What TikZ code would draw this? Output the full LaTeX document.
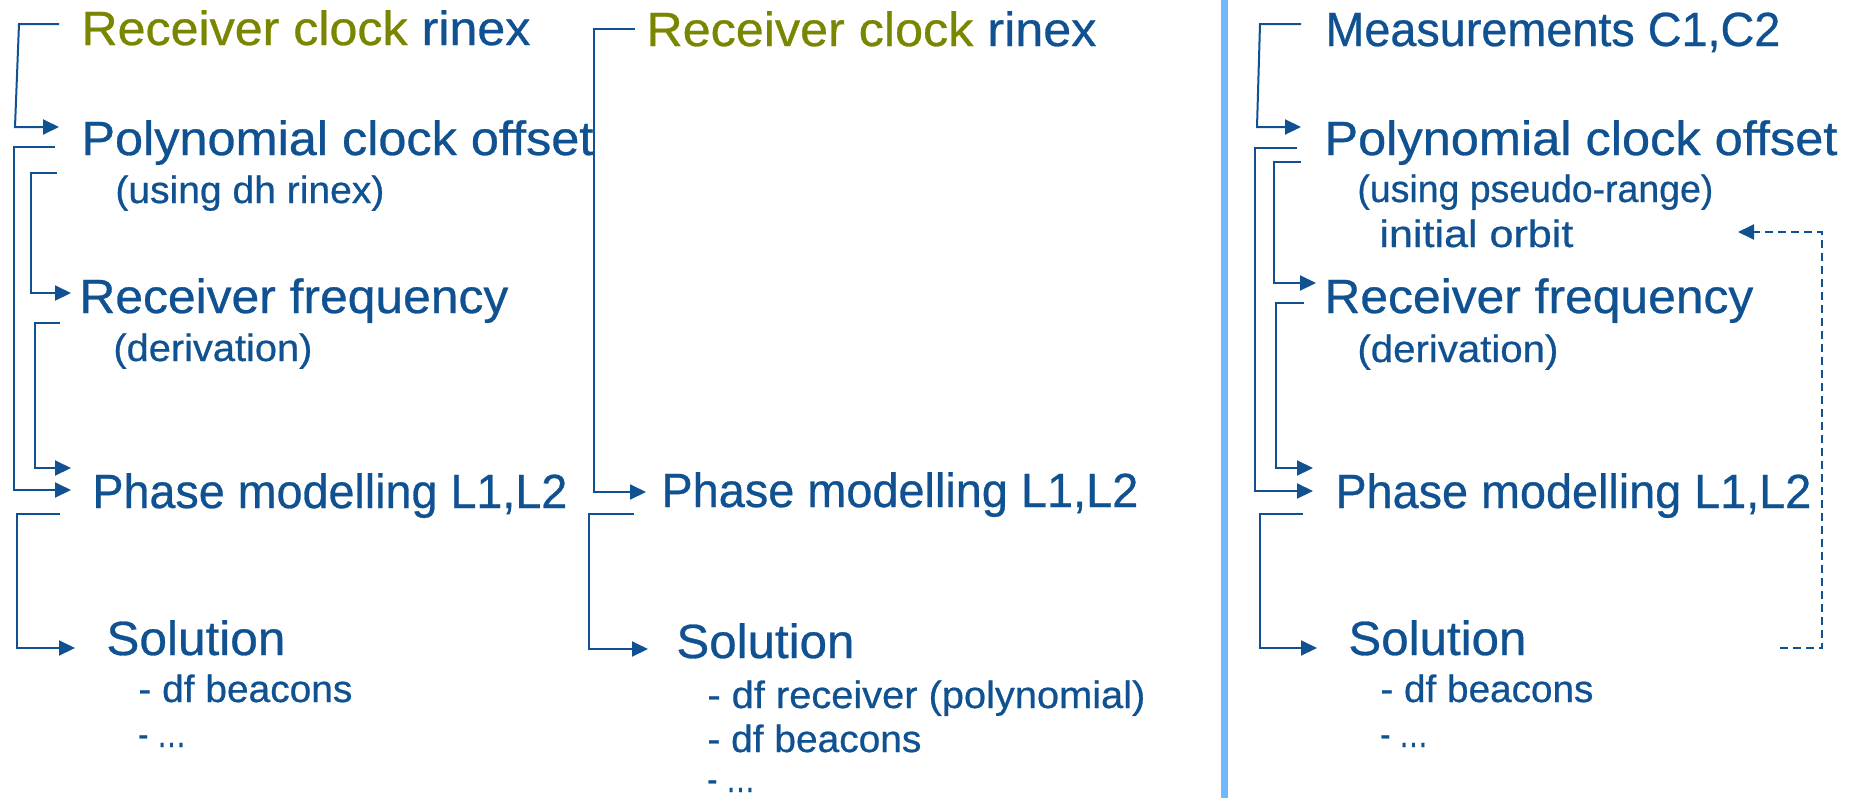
\documentclass[tikz,border=0pt]{standalone}
\usepackage{fontspec}
\setmainfont{Liberation Sans}[FakeBold=0.6]
\usetikzlibrary{arrows.meta}
\newlength\px \setlength\px{0.5pt}
\newcommand\fitw[2]{\resizebox{#1\px}{\height}{#2}}
\definecolor{tblue}{RGB}{16,82,145}
\definecolor{tgreen}{RGB}{122,134,0}
\definecolor{sepblue}{RGB}{112,184,255}
\begin{document}
\begin{tikzpicture}[x=0.5pt,y=-0.5pt,
  big/.style={anchor=base west,inner sep=0pt,text=tblue,font=\fontsize{24}{28}\selectfont},
  small/.style={anchor=base west,inner sep=0pt,text=tblue,font=\fontsize{19}{22}\selectfont},
  conn/.style={draw=tblue,line width=1pt,-{Triangle[length=8pt,width=7.5pt]}},
  fback/.style={conn,dash pattern=on 4pt off 2.5pt}]
\fill[white] (0,0) rectangle (1852,798);
\useasboundingbox (0,0) rectangle (1852,798);
% separator
\fill[sepblue] (1221,0) rectangle (1228,798);

% ---------- left column ----------
\node[big] (lrc) at (81,45) {\fitw{449}{{\color{tgreen}Receiver clock} rinex}};
\node[big] (lpco) at (81,155) {\fitw{512}{Polynomial clock offset}};
\node[small] (lpcos) at (115,203) {\fitw{269}{(using dh rinex)}};
\node[big] (lrf) at (79,313) {\fitw{429}{Receiver frequency}};
\node[small] (lrfs) at (113,361) {\fitw{199}{(derivation)}};
\node[big] (lpm) at (92,508) {\fitw{475}{Phase modelling L1,L2}};
\node[big] (lsol) at (106,655) {\fitw{179}{Solution}};
\node[small] (lsol1) at (138,702) {\fitw{214}{- df beacons}};
\node[small] (lsol2) at (138,747) {\fitw{48}{- …}};

\coordinate (l1s) at (59,24);   \coordinate (l1e) at (59,127);
\coordinate (l2s) at (55,147);  \coordinate (l2e) at (71,490);
\coordinate (l3s) at (57,173);  \coordinate (l3e) at (71,293);
\coordinate (l4s) at (60,323);  \coordinate (l4e) at (71,468);
\coordinate (l5s) at (60,514);  \coordinate (l5e) at (75,648);
\draw[conn] (l1s) -- (19,24) -- (15,127) -- (l1e);
\draw[conn] (l2s) -- (14,147) -- (14,490) -- (l2e);
\draw[conn] (l3s) -- (31,173) -- (31,293) -- (l3e);
\draw[conn] (l4s) -- (35,323) -- (35,468) -- (l4e);
\draw[conn] (l5s) -- (17,514) -- (17,648) -- (l5e);

% ---------- middle column ----------
\node[big] (mrc) at (646,46) {\fitw{450}{{\color{tgreen}Receiver clock} rinex}};
\node[big] (mpm) at (661,507) {\fitw{477}{Phase modelling L1,L2}};
\node[big] (msol) at (676,658) {\fitw{178}{Solution}};
\node[small] (msol1) at (707,708) {\fitw{438}{- df receiver (polynomial)}};
\node[small] (msol2) at (707,752) {\fitw{214}{- df beacons}};
\node[small] (msol3) at (707,792) {\fitw{48}{- …}};

\coordinate (m1s) at (635,29);  \coordinate (m1e) at (646,492);
\coordinate (m2s) at (634,514); \coordinate (m2e) at (648,649);
\draw[conn] (m1s) -- (594,29) -- (594,492) -- (m1e);
\draw[conn] (m2s) -- (589,514) -- (589,649) -- (m2e);

% ---------- right column ----------
\node[big] (rmeas) at (1325,46) {\fitw{455}{Measurements C1,C2}};
\node[big] (rpco) at (1324,155) {\fitw{513}{Polynomial clock offset}};
\node[small] (rpcos) at (1357,202) {\fitw{356}{(using pseudo-range)}};
\node[small] (rorb) at (1379,247) {\fitw{194}{initial orbit}};
\node[big] (rrf) at (1324,313) {\fitw{429}{Receiver frequency}};
\node[small] (rrfs) at (1357,362) {\fitw{201}{(derivation)}};
\node[big] (rpm) at (1335,508) {\fitw{476}{Phase modelling L1,L2}};
\node[big] (rsol) at (1348,655) {\fitw{178}{Solution}};
\node[small] (rsol1) at (1380,702) {\fitw{213}{- df beacons}};
\node[small] (rsol2) at (1380,747) {\fitw{48}{- …}};

\coordinate (r1s) at (1301,24);  \coordinate (r1e) at (1301,127);
\coordinate (r2s) at (1297,148); \coordinate (r2e) at (1313,491);
\coordinate (r3s) at (1301,162); \coordinate (r3e) at (1316,283);
\coordinate (r4s) at (1304,303); \coordinate (r4e) at (1313,468);
\coordinate (r5s) at (1303,514); \coordinate (r5e) at (1317,648);
\draw[conn] (r1s) -- (1260,24) -- (1257,127) -- (r1e);
\draw[conn] (r2s) -- (1255,148) -- (1255,491) -- (r2e);
\draw[conn] (r3s) -- (1274,162) -- (1274,283) -- (r3e);
\draw[conn] (r4s) -- (1276,303) -- (1276,468) -- (r4e);
\draw[conn] (r5s) -- (1260,514) -- (1260,648) -- (r5e);

\coordinate (fbs) at (1780,648); \coordinate (fbe) at (1738,232);
\draw[fback] (fbs) -- (1822,648) -- (1822,232) -- (fbe);
\end{tikzpicture}
\end{document}
